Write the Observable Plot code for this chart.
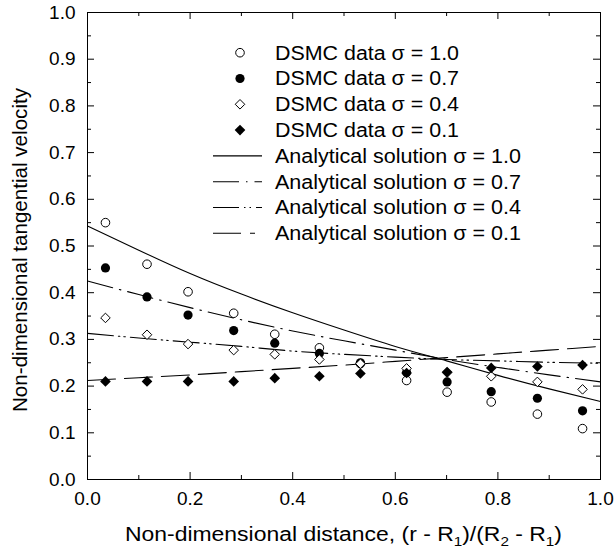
<!DOCTYPE html>
<html><head><meta charset="utf-8">
<script src="https://cdn.jsdelivr.net/npm/d3@7"></script>
<script src="https://cdn.jsdelivr.net/npm/@observablehq/plot@0.6"></script>
<style>
body{margin:0;background:#fff;}
#chart{width:615px;height:556px;}
</style></head><body><div id="chart"></div>
<script>
// ---- data ----
const xPos   = [0.035,0.116,0.196,0.285,0.365,0.452,0.532,0.622,0.701,0.787,0.877,0.965];
const dsmc10 = [0.550,0.461,0.402,0.356,0.311,0.282,0.248,0.212,0.187,0.166,0.140,0.109];
const dsmc07 = [0.453,0.391,0.352,0.319,0.292,0.270,0.250,0.229,0.209,0.188,0.174,0.147];
const dsmc04 = [0.346,0.310,0.290,0.277,0.268,0.257,0.248,0.238,0.229,0.221,0.209,0.193];
const dsmc01 = [0.210,0.210,0.210,0.210,0.217,0.221,0.227,0.228,0.230,0.239,0.242,0.245];

const xLine  = [0,0.1,0.2,0.3,0.4,0.5,0.6,0.7,0.8,0.9,1.0];
const ana10  = [0.543,0.491,0.441,0.397,0.357,0.320,0.285,0.254,0.223,0.194,0.167];
const ana07  = [0.425,0.396,0.368,0.342,0.318,0.297,0.277,0.257,0.240,0.224,0.209];
const ana04  = [0.313,0.303,0.294,0.285,0.275,0.268,0.262,0.257,0.254,0.251,0.249];
const ana01  = [0.212,0.218,0.224,0.231,0.238,0.245,0.253,0.261,0.269,0.277,0.285];

const xTicks = [0,0.2,0.4,0.6,0.8,1.0];
const xMinor = [0.1,0.3,0.5,0.7,0.9];
const yTicks = [0,0.1,0.2,0.3,0.4,0.5,0.6,0.7,0.8,0.9,1.0];
const yMinor = [0.05,0.15,0.25,0.35,0.45,0.55,0.65,0.75,0.85,0.95];

const sigmas = ["1.0","0.7","0.4","0.1"];
const xTitle = "Non-dimensional distance, (r - R";
const yTitle = "Non-dimensional tangential velocity";

// ---- layout ----
const W = 615, H = 556, mL = 87, mR = 15, mT = 12, mB = 77;
const pw = W - mL - mR, ph = H - mT - mB;
const FONT = "'Liberation Sans', Arial, sans-serif";
const dash07 = "26,7,1.5,7", dash04 = "26,5,1.5,4,1.5,5", dash01 = "28,9";

const pts = (ys) => xPos.map((x, i) => ({x, y: ys[i]}));
const lin = (ys) => xLine.map((x, i) => ({x, y: ys[i]}));

const svg = Plot.plot({
  width: W, height: H,
  marginLeft: mL, marginRight: mR, marginTop: mT, marginBottom: mB,
  x: {domain: [0, 1]},
  y: {domain: [0, 1]},
  style: {fontFamily: FONT, fontSize: "19px", color: "black", background: "white"},
  marks: [
    // inward ticks (bottom / top / left / right)
    Plot.tickX(xTicks, {x: d => d, insetTop: ph - 7, stroke: "black"}),
    Plot.tickX(xMinor, {x: d => d, insetTop: ph - 4, stroke: "black"}),
    Plot.tickX(xTicks, {x: d => d, insetBottom: ph - 7, stroke: "black"}),
    Plot.tickX(xMinor, {x: d => d, insetBottom: ph - 4, stroke: "black"}),
    Plot.tickY(yTicks, {y: d => d, insetRight: pw - 7, stroke: "black"}),
    Plot.tickY(yMinor, {y: d => d, insetRight: pw - 4, stroke: "black"}),
    Plot.tickY(yTicks, {y: d => d, insetLeft: pw - 7, stroke: "black"}),
    Plot.tickY(yMinor, {y: d => d, insetLeft: pw - 4, stroke: "black"}),
    Plot.axisX({ticks: xTicks, tickSize: 0, tickPadding: 12, tickFormat: d => d.toFixed(1), label: null, fontSize: 19}),
    Plot.axisY({ticks: yTicks, tickSize: 0, tickPadding: 12, tickFormat: d => d.toFixed(1), label: null, fontSize: 19}),
    // analytical lines
    Plot.line(lin(ana10), {x: "x", y: "y", curve: "natural", stroke: "black", strokeWidth: 1.1}),
    Plot.line(lin(ana07), {x: "x", y: "y", curve: "natural", stroke: "black", strokeWidth: 1.1, strokeDasharray: dash07}),
    Plot.line(lin(ana04), {x: "x", y: "y", curve: "natural", stroke: "black", strokeWidth: 1.1, strokeDasharray: dash04}),
    Plot.line(lin(ana01), {x: "x", y: "y", curve: "natural", stroke: "black", strokeWidth: 1.1, strokeDasharray: dash01}),
    // DSMC points
    Plot.dot(pts(dsmc10), {x: "x", y: "y", symbol: "circle", r: 4.3, fill: "white", stroke: "black", strokeWidth: 1}),
    Plot.dot(pts(dsmc07), {x: "x", y: "y", symbol: "circle", r: 4.6, fill: "black", stroke: "none"}),
    Plot.dot(pts(dsmc04), {x: "x", y: "y", symbol: "diamond2", r: 4.3, fill: "white", stroke: "black", strokeWidth: 1}),
    Plot.dot(pts(dsmc01), {x: "x", y: "y", symbol: "diamond2", r: 4.8, fill: "black", stroke: "none"}),
    Plot.frame({stroke: "black", strokeWidth: 1})
  ]
});
document.getElementById("chart").appendChild(svg);

// ---- titles and legend (layout only) ----
const s = d3.select(svg);
const xt = s.append("text")
  .attr("x", mL + pw / 2).attr("y", 540.5)
  .attr("text-anchor", "middle").attr("font-family", FONT).attr("font-size", 19.5).attr("fill", "black")
  .attr("textLength", 437).attr("lengthAdjust", "spacingAndGlyphs");
xt.append("tspan").text(xTitle);
xt.append("tspan").attr("font-size", 13).attr("dy", 5).text("1");
xt.append("tspan").attr("dy", -5).text(")/(R");
xt.append("tspan").attr("font-size", 13).attr("dy", 5).text("2");
xt.append("tspan").attr("dy", -5).text(" - R");
xt.append("tspan").attr("font-size", 13).attr("dy", 5).text("1");
xt.append("tspan").attr("dy", -5).text(")");

s.append("text")
  .attr("transform", `translate(27.3,${250}) rotate(-90)`)
  .attr("text-anchor", "middle").attr("font-family", FONT).attr("font-size", 19.5).attr("fill", "black")
  .attr("textLength", 324).attr("lengthAdjust", "spacingAndGlyphs")
  .text(yTitle);

const lg = s.append("g").attr("text-anchor", "start");
const rowY = i => 52.7 + i * 25.8;
const symC = d3.symbol(d3.symbolCircle, Math.PI * 4.3 * 4.3)();
const symCf = d3.symbol(d3.symbolCircle, Math.PI * 4.6 * 4.6)();
const symD = d3.symbol(d3.symbolDiamond2, Math.PI * 4.3 * 4.3)();
const symDf = d3.symbol(d3.symbolDiamond2, Math.PI * 4.8 * 4.8)();
const symbols = [
  {d: symC, fill: "white", stroke: "black"},
  {d: symCf, fill: "black", stroke: "none"},
  {d: symD, fill: "white", stroke: "black"},
  {d: symDf, fill: "black", stroke: "none"}
];
sigmas.forEach((sg, i) => {
  lg.append("path").attr("d", symbols[i].d).attr("transform", `translate(240,${rowY(i)})`)
    .attr("fill", symbols[i].fill).attr("stroke", symbols[i].stroke);
  lg.append("text").attr("x", 275).attr("y", rowY(i)).attr("dy", "0.35em")
    .attr("text-anchor", "start")
    .attr("font-family", FONT).attr("font-size", 19.5).attr("fill", "black")
    .attr("textLength", 184).attr("lengthAdjust", "spacingAndGlyphs")
    .text(`DSMC data σ = ${sg}`);
});
const dashes = [null, dash07, dash04, dash01];
const lens = [49, 49, 49, 42];
sigmas.forEach((sg, i) => {
  const y = rowY(i + 4);
  const ln = lg.append("line").attr("x1", 213).attr("x2", 213 + lens[i]).attr("y1", y).attr("y2", y)
    .attr("stroke", "black").attr("stroke-width", 1.1);
  if (dashes[i]) ln.attr("stroke-dasharray", dashes[i]);
  lg.append("text").attr("x", 275).attr("y", y).attr("dy", "0.35em")
    .attr("text-anchor", "start")
    .attr("font-family", FONT).attr("font-size", 19.5).attr("fill", "black")
    .attr("textLength", 246).attr("lengthAdjust", "spacingAndGlyphs")
    .text(`Analytical solution σ = ${sg}`);
});
</script></body></html>
